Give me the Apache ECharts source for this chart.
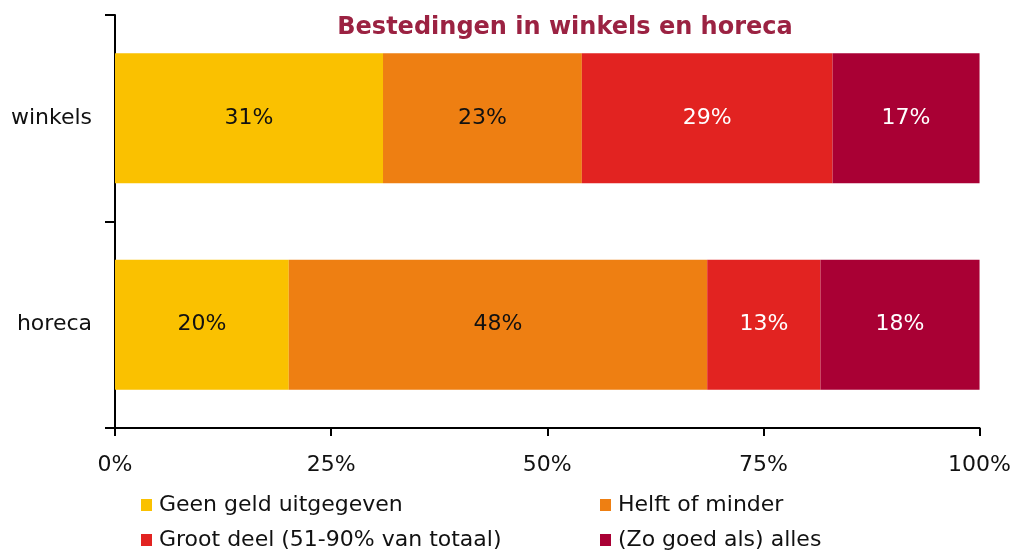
<!DOCTYPE html>
<html>
<head>
<meta charset="utf-8">
<script src="https://cdn.jsdelivr.net/npm/echarts@6/dist/echarts.min.js"></script>
<style>
  html, body { margin: 0; padding: 0; background: #fff; }
  #chart { width: 1014px; height: 552px; }
</style>
</head>
<body>
<div id="chart"></div>
<script>
const categories = ['winkels', 'horeca']
const seriesNames = ['Geen geld uitgegeven', 'Helft of minder', 'Groot deel (51-90% van totaal)', '(Zo goed als) alles']
const geenGeld = [31, 20.1]
const helftOfMinder = [23, 48.4]
const grootDeel = [29, 13.1]
const alles = [17, 18.4]
const xTicks = [0, 25, 50, 75, 100]

const colors = ['#FAC100', '#EE7F12', '#E22321', '#A90034']
const labelColors = ['#111', '#111', '#fff', '#fff']
const values = [geenGeld, helftOfMinder, grootDeel, alles]
const font = 'DejaVu Sans'

// legend positions: two columns, two rows
const legendPos = [[141, 494], [600, 494], [141, 529], [600, 529]]

const chart = echarts.init(document.getElementById('chart'))

const option = {
  animation: false,
  title: {
    text: 'Bestedingen in winkels en horeca',
    left: 560,
    top: 11,
    textAlign: 'center',
    textStyle: {
      color: '#9B2242',
      fontSize: 24,
      fontWeight: 'bold',
      fontFamily: font
    }
  },
  legend: seriesNames.map((name, i) => ({
    data: [name],
    left: legendPos[i][0],
    top: legendPos[i][1],
    padding: 0,
    itemWidth: 11,
    itemHeight: 12,
    icon: 'rect',
    textStyle: { fontSize: 22, color: '#111', fontFamily: font, padding: [0, 0, 0, 2] }
  })),
  grid: {
    left: 115,
    right: 34,
    top: 15,
    bottom: 124
  },
  xAxis: {
    type: 'value',
    min: xTicks[0],
    max: xTicks[xTicks.length - 1],
    interval: 25,
    axisLine: { show: true, lineStyle: { color: '#000', width: 2 } },
    axisTick: { show: true, length: 8, lineStyle: { color: '#000', width: 2 } },
    splitLine: { show: false },
    axisLabel: {
      formatter: '{value}%',
      margin: 26,
      fontSize: 22,
      color: '#111',
      fontFamily: font
    }
  },
  yAxis: {
    type: 'category',
    data: categories,
    inverse: true,
    axisLine: { show: true, lineStyle: { color: '#000', width: 2 } },
    axisTick: { show: true, length: 10, lineStyle: { color: '#000', width: 2 } },
    axisLabel: {
      margin: 23,
      fontSize: 22,
      color: '#111',
      fontFamily: font
    }
  },
  series: seriesNames.map((name, i) => ({
    name: name,
    type: 'bar',
    stack: 'total',
    barWidth: '63%',
    data: values[i],
    itemStyle: { color: colors[i] },
    label: {
      show: true,
      position: 'inside',
      formatter: p => Math.round(p.value) + '%',
      fontSize: 22,
      color: labelColors[i],
      fontFamily: font
    }
  }))
}

chart.setOption(option)
</script>
</body>
</html>
